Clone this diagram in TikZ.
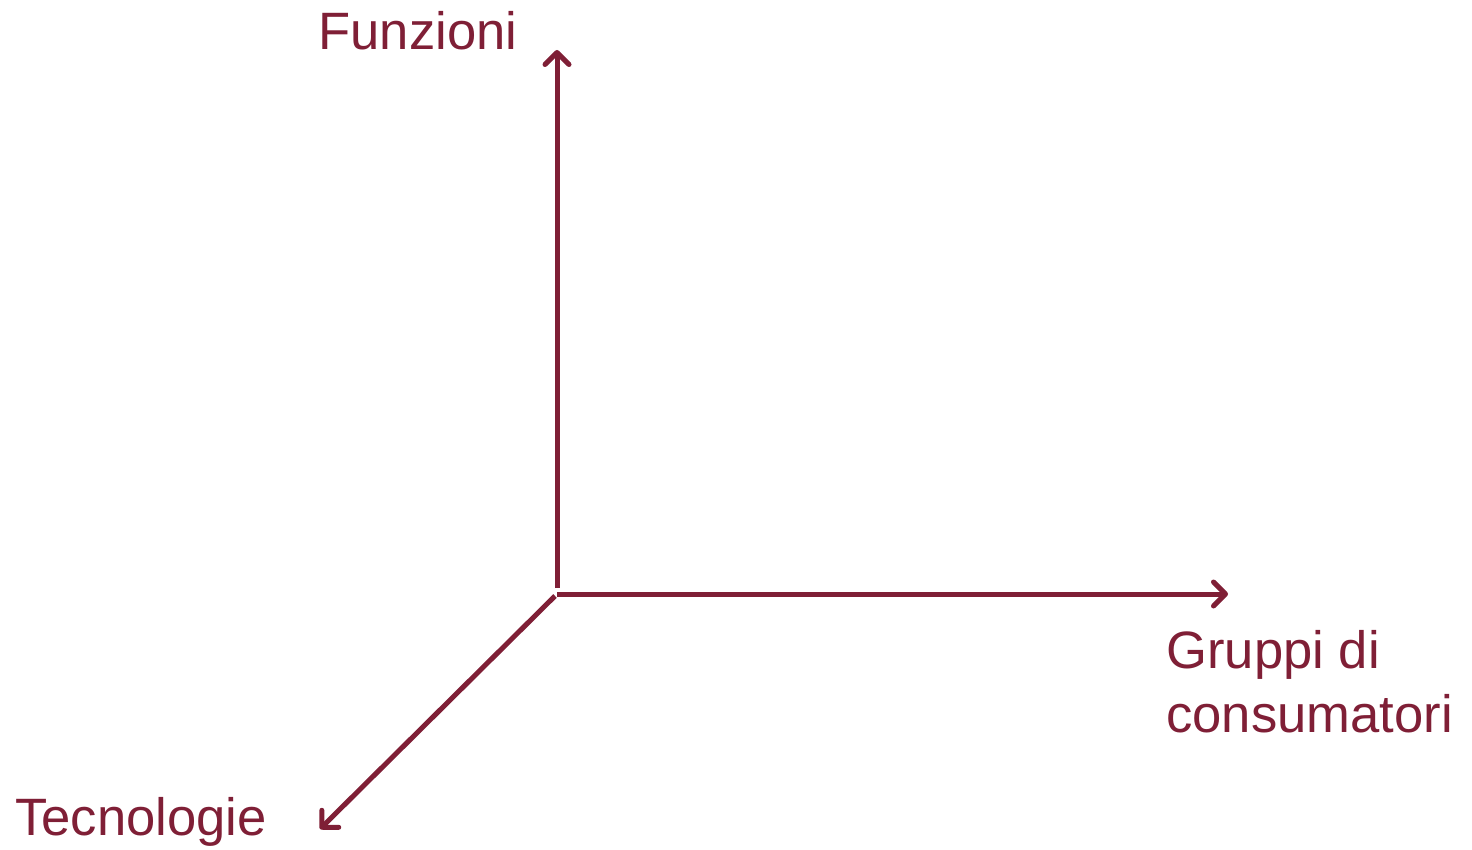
\documentclass[tikz,border=0pt]{standalone}
\usepackage{fontspec}
\setmainfont{Liberation Sans}
\usetikzlibrary{arrows.meta}
\definecolor{maroon}{HTML}{7F1F36}
\begin{document}
\begin{tikzpicture}[x=0.5pt,y=-0.5pt,
  axis/.style={draw=maroon,line width=2.5pt,-{Straight Barb[length=6pt,width=12pt,line cap=round,line join=round]}},
  lbl/.style={text=maroon,font=\fontsize{26.3pt}{32pt}\selectfont,inner sep=0pt,anchor=base west}]
\useasboundingbox (0,0) rectangle (1472,850);
\coordinate (O) at (557,594);
\coordinate (Otop) at (557,588);
\coordinate (Oleft) at (555,596);
\coordinate (ytip) at (557,50);
\coordinate (xtip) at (1228,594);
\coordinate (ztip) at (320,829);
\draw[axis] (Otop) -- (ytip);
\draw[axis] (O) -- (xtip);
\draw[axis] (Oleft) -- (ztip);
\node[lbl] (fun) at (318,50) {Funzioni};
\node[lbl] (tec) at (15,835) {Tecnologie};
\node[lbl,align=left] (gru) at (1166,732) {Gruppi di\\consumatori};
\end{tikzpicture}
\end{document}
